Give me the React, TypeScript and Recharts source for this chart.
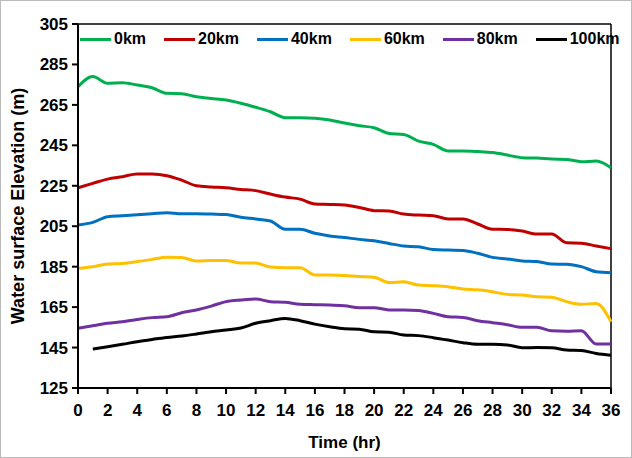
import { LineChart, Line, XAxis, YAxis, Legend, ReferenceLine } from 'recharts';

const FONT = '"Liberation Sans", Arial, sans-serif';

// time in hours (x axis categories)
const hours = [0, 1, 2, 3, 4, 5, 6, 7, 8, 9, 10, 11, 12, 13, 14, 15, 16, 17, 18, 19, 20, 21, 22, 23, 24, 25, 26, 27, 28, 29, 30, 31, 32, 33, 34, 35, 36];

const xTicks = [0, 2, 4, 6, 8, 10, 12, 14, 16, 18, 20, 22, 24, 26, 28, 30, 32, 34, 36];
const yTicks = [125, 145, 165, 185, 205, 225, 245, 265, 285, 305];

// water surface elevation (m), one value per hour
const km0 = [274, 279, 275.7, 276, 274.8, 273.5, 270.7, 270.5, 269, 268.2, 267.4, 265.8, 263.8, 261.6, 258.7, 258.7, 258.4, 257.5, 256, 254.7, 253.7, 250.9, 250.4, 247.1, 245.5, 242.2, 242.2, 241.9, 241.4, 240.2, 238.9, 238.7, 238.2, 238, 236.9, 237.2, 233.9];
const km20 = [224, 226.2, 228.3, 229.5, 230.8, 230.8, 230, 227.8, 225, 224.4, 224, 223.2, 222.6, 220.9, 219.4, 218.4, 216, 215.8, 215.5, 214.3, 212.7, 212.5, 211, 210.5, 210.2, 208.6, 208.6, 206.1, 203.5, 203.4, 202.6, 201.1, 201.1, 196.8, 196.6, 195.2, 193.9];
const km40 = [205.6, 206.9, 209.7, 210.2, 210.7, 211.2, 211.7, 211.2, 211.2, 211, 210.8, 209.4, 208.6, 207.6, 203.5, 203.5, 201.5, 200.2, 199.4, 198.5, 197.8, 196.5, 195.2, 194.8, 193.5, 193.2, 193, 191.6, 189.6, 188.8, 187.8, 187.5, 186.3, 186.2, 185, 182.5, 182];
const km60 = [184.2, 185, 186.3, 186.6, 187.5, 188.6, 189.6, 189.5, 187.8, 188.1, 188, 186.8, 186.8, 184.8, 184.5, 184.5, 180.9, 180.9, 180.6, 180.1, 179.8, 177.2, 177.5, 175.9, 175.6, 175.1, 173.9, 173.6, 172.6, 171.3, 171, 170.1, 169.9, 167.7, 166.4, 166.8, 157.8];
const km80 = [154.5, 155.8, 157, 157.8, 158.9, 159.8, 160.2, 162.2, 163.6, 165.5, 167.7, 168.5, 169, 167.7, 167.4, 166.4, 166.2, 166, 165.7, 164.7, 164.7, 163.6, 163.6, 163.3, 161.9, 160.2, 159.9, 158.3, 157.3, 156.3, 155, 155, 153.3, 153.1, 153.3, 146.7, 146.7];
const km100 = [null, 144.3, 145.4, 146.6, 147.9, 149, 150, 150.7, 151.7, 152.8, 153.7, 154.7, 157, 158.3, 159.4, 158.3, 156.6, 155.3, 154.3, 154.1, 152.8, 152.6, 151.2, 150.9, 149.9, 148.7, 147.4, 146.6, 146.6, 146.3, 144.9, 145, 144.9, 143.8, 143.5, 142.1, 141.2];

const series = [
  { key: '0km', values: km0, color: '#00B050' },
  { key: '20km', values: km20, color: '#C00000' },
  { key: '40km', values: km40, color: '#0070C0' },
  { key: '60km', values: km60, color: '#FFC000' },
  { key: '80km', values: km80, color: '#7030A0' },
  { key: '100km', values: km100, color: '#000000' },
];

const data = hours.map((h, i) => {
  const row: { [k: string]: any } = { t: h };
  series.forEach(s => { row[s.key] = s.values[i]; });
  return row;
});

const tickStyle = { fontFamily: FONT, fontSize: 17, fontWeight: 700, fill: '#000' };

function LegendRow() {
  return (
    <div style={{ display: 'flex', fontFamily: FONT, fontWeight: 700, fontSize: 16, color: '#000', whiteSpace: 'nowrap' }}>
      {series.map(s => (
        <div key={s.key} style={{ display: 'flex', alignItems: 'center', marginRight: 18 }}>
          <div style={{ width: 31, height: 3, background: s.color, marginRight: 3 }} />
          <span>{s.key}</span>
        </div>
      ))}
    </div>
  );
}

export default function App() {
  return (
    <div style={{ position: 'absolute', left: 0, top: 0, width: 632, height: 458, background: '#fff', border: '1px solid #bbb', boxSizing: 'border-box' }}>
      <div style={{ position: 'absolute', left: -1, top: -1 }}>
        <LineChart width={632} height={458} data={data} margin={{ top: 24, right: 21, bottom: 0, left: 0 }}>
          <XAxis
            dataKey="t"
            type="number"
            domain={[0, 36]}
            ticks={xTicks}
            interval={0}
            height={70}
            stroke="#000"
            strokeWidth={2}
            tickSize={6}
            tick={tickStyle}
            tickMargin={10}
            label={{ value: 'Time (hr)', position: 'insideBottom', offset: 10, style: { ...tickStyle, fontSize: 17 } }}
          />
          <YAxis
            type="number"
            domain={[125, 305]}
            ticks={yTicks}
            interval={0}
            width={78}
            stroke="#000"
            strokeWidth={2}
            tickSize={6}
            tick={tickStyle}
            tickMargin={4}
            label={{ value: 'Water surface Elevation (m)', angle: -90, position: 'insideLeft', offset: 18, style: { ...tickStyle, fontSize: 18, textAnchor: 'middle' } }}
          />
          <ReferenceLine y={305} stroke="#000" strokeWidth={1.5} />
          <ReferenceLine x={36} stroke="#000" strokeWidth={1.5} />
          {series.map(s => (
            <Line
              key={s.key}
              type="monotone"
              dataKey={s.key}
              stroke={s.color}
              strokeWidth={3}
              dot={false}
              isAnimationActive={false}
            />
          ))}
          <Legend
            layout="vertical"
            align="center"
            verticalAlign="middle"
            wrapperStyle={{ top: 30, left: 80, width: 550 }}
            content={() => <LegendRow />}
          />
        </LineChart>
      </div>
    </div>
  );
}
